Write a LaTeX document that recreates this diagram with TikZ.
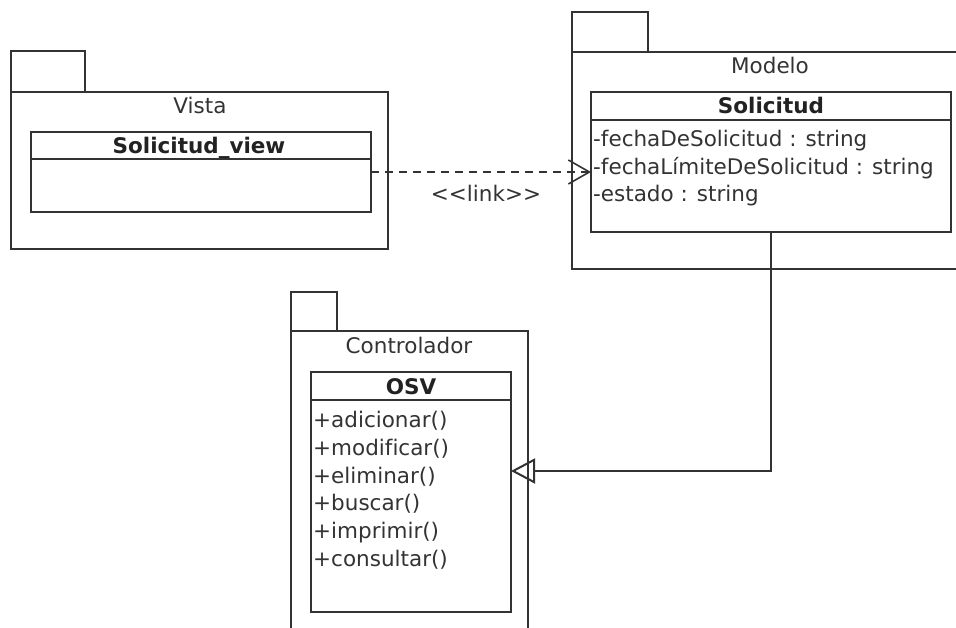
\documentclass[tikz,border=0pt]{standalone}
\usepackage{fontspec}
\setmainfont[Ligatures=NoCommon]{DejaVu Sans}
\usetikzlibrary{arrows.meta,calc}
\definecolor{ink}{HTML}{333333}
\definecolor{inkdark}{HTML}{222222}
\tikzset{
  umlline/.style={draw=ink, line width=2pt},
  box/.style={umlline, rectangle, anchor=north west, outer sep=0pt, inner sep=0pt},
  basefont/.style={font=\fontsize{21.5}{26}\selectfont, inner sep=0pt},
  pkgname/.style={basefont, text=ink, anchor=base},
  clsname/.style={basefont, text=inkdark, font=\bfseries\fontsize{21.5}{26}\selectfont, anchor=base},
  member/.style={basefont, text=ink, anchor=base west},
}
\begin{document}
\begin{tikzpicture}[x=1pt,y=-1pt]
\useasboundingbox (0,0) rectangle (956,628);
\clip (0,0) rectangle (956,628);
\fill[white] (0,0) rectangle (956,628);

% Vista package
\node[box, minimum width=74pt, minimum height=41pt] (vistatab) at (11,51) {};
\node[box, minimum width=377pt, minimum height=157pt] (vista) at (11,92) {};
\node[pkgname] (vistalbl) at (200,114) {Vista};
\node[box, minimum width=340pt, minimum height=80pt] (view) at (31,132) {};
\draw[umlline] (31,159) -- (371,159);
\node[clsname] (viewname) at (199,154) {Solicitud\_view};

% Modelo package
\node[box, minimum width=76pt, minimum height=40pt] (modelotab) at (572,12) {};
\node[box, minimum width=390pt, minimum height=217pt] (modelo) at (572,52) {};
\node[pkgname] (modelolbl) at (770,74) {Modelo};
\node[box, minimum width=360pt, minimum height=140pt] (sol) at (591,92) {};
\draw[umlline] (591,120) -- (951,120);
\node[clsname] (solname) at (771,114) {Solicitud};
\node[member] (a1) at (593,147) {-fechaDeSolicitud : string};
\node[member] (a2) at (593,175) {-fechaLímiteDeSolicitud : string};
\node[member] (a3) at (593,202) {-estado : string};

% Controlador package
\node[box, minimum width=46pt, minimum height=39pt] (ctrltab) at (291,292) {};
\node[box, minimum width=237pt, minimum height=320pt] (ctrl) at (291,331) {};
\node[pkgname] (ctrllbl) at (409,354) {Controlador};
\node[box, minimum width=200pt, minimum height=240pt] (osv) at (311,372) {};
\draw[umlline] (311,400) -- (511,400);
\node[clsname] (osvname) at (411,394) {OSV};
\node[member] (m1) at (313,427) {+adicionar()};
\node[member] (m2) at (313,455) {+modificar()};
\node[member] (m3) at (313,483) {+eliminar()};
\node[member] (m4) at (313,510) {+buscar()};
\node[member] (m5) at (313,538) {+imprimir()};
\node[member] (m6) at (313,566) {+consultar()};

% dependency Solicitud_view -> Solicitud
\draw[umlline, line width=1.6pt, dash pattern=on 8pt off 6pt,
      -{Straight Barb[length=21pt,width=24pt,line width=1.6pt]}]
  (view.east) -- (view.east -| sol.west);
\node[pkgname] (lnk) at (486,202) {\symbol{60}\symbol{60}link\symbol{62}\symbol{62}};

% generalization Solicitud -> OSV
\coordinate (gen) at ([yshift=21pt]osv.east);
\draw[umlline, -{Triangle[open,length=24pt,width=25pt,line width=2pt]}]
  (sol.south) |- (gen);
\end{tikzpicture}
\end{document}
